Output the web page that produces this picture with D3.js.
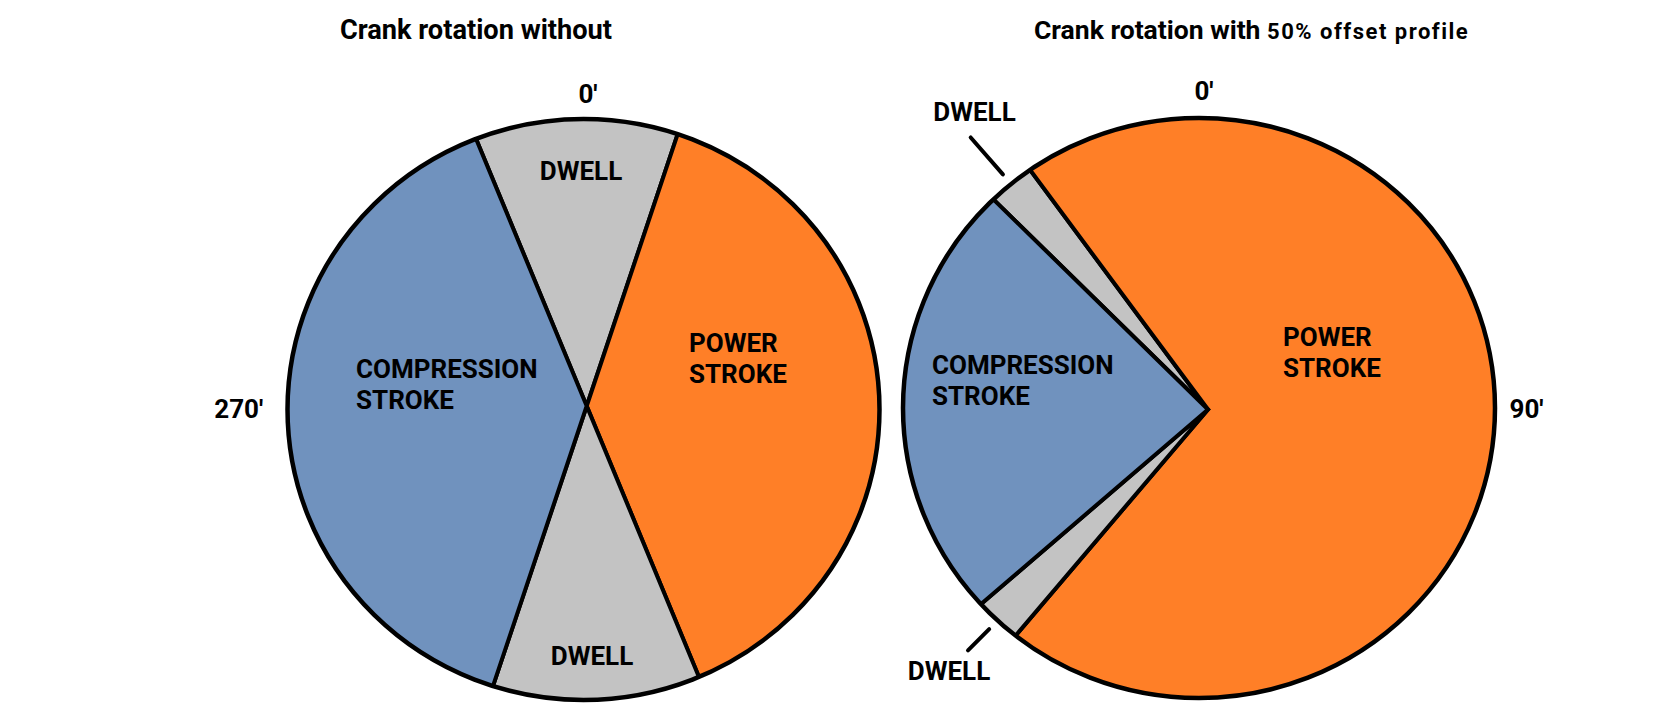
<!DOCTYPE html>
<html>
<head>
<meta charset="utf-8">
<script src="https://cdn.jsdelivr.net/npm/d3@7"></script>
<style>
  html, body { margin: 0; padding: 0; background: #ffffff; }
  svg { display: block; }
  text { font-family: Roboto, "DejaVu Sans", sans-serif; font-weight: 700; fill: #000; }
</style>
</head>
<body>
<svg id="chart" width="1664" height="704"></svg>
<script>
// ---------- DATA ----------
const categories = ["DWELL", "POWER STROKE", "DWELL", "COMPRESSION STROKE"];
const leftValues = [41, 139, 41, 139];     // degrees of crank rotation, no offset
const rightValues = [9, 257, 9, 85];       // degrees of crank rotation, 50% offset profile
const leftTitle = ["Crank rotation without"];
const rightTitle = ["Crank rotation with ", "50% offset profile"];
const leftTickLabels = ["0'", "270'"];
const rightTickLabels = ["0'", "90'"];

// ---------- STYLE / LAYOUT ----------
const colour = d3.scaleOrdinal()
  .domain(["DWELL", "POWER STROKE", "COMPRESSION STROKE"])
  .range(["#c3c3c3", "#ff7f27", "#7092be"]);

const deg = d3.scaleLinear().domain([0, 360]).range([0, 2 * Math.PI]);

const svg = d3.select("#chart");
const defs = svg.append("defs");

const charts = [
  {
    id: "L",
    values: leftValues,
    start: -22.5,
    vertex: [586.7, 406],
    ellipse: { cx: 583.5, cy: 409.5, rx: 296, ry: 290.5 },
    labels: [
      { dx: -5.7, dy: -226, anchor: "middle" },
      { dx: 102.3, dy: -54, anchor: "start" },
      { dx: 5.3, dy: 259, anchor: "middle" },
      { dx: -230.7, dy: -28, anchor: "start" }
    ],
    ticks: leftTickLabels,
    tickPos: [{ dx: 1.3, dy: -303 }, { dx: -348, dy: 12 }],
    title: leftTitle,
    titleSize: "27.2px",
    titlePos: { x: 476, y: 39, anchor: "middle" },
    leaders: []
  },
  {
    id: "R",
    values: rightValues,
    start: -45.6,
    vertex: [1208, 409.5],
    ellipse: { cx: 1199, cy: 408, rx: 296, ry: 290 },
    labels: [
      { dx: -233.5, dy: -288.8, anchor: "middle" },
      { dx: 75, dy: -63.5, anchor: "start" },
      { dx: -259, dy: 270.5, anchor: "middle" },
      { dx: -276, dy: -35.5, anchor: "start" }
    ],
    ticks: rightTickLabels,
    tickPos: [{ dx: -4, dy: -309.5 }, { dx: 318.5, dy: 8.2 }],
    title: rightTitle,
    titleSize: "26.5px",
    titlePos: { x: 1034, y: 39, anchor: "start" },
    leaders: [ { slice: 0, r0: 312, r1: 361 }, { slice: 2, r0: 310, r1: 340 } ]
  }
];

charts.forEach(c => {
  const pie = d3.pie().sort(null).value(d => d)
    .startAngle(deg(c.start)).endAngle(deg(c.start + 360));
  const arcs = pie(c.values);
  const arc = d3.arc().innerRadius(0).outerRadius(430);

  defs.append("clipPath").attr("id", "clip" + c.id)
    .append("ellipse")
    .attr("cx", c.ellipse.cx).attr("cy", c.ellipse.cy)
    .attr("rx", c.ellipse.rx).attr("ry", c.ellipse.ry);

  const g = svg.append("g");
  g.append("g")
    .attr("clip-path", `url(#clip${c.id})`)
    .append("g")
    .attr("transform", `translate(${c.vertex[0]},${c.vertex[1]})`)
    .selectAll("path")
    .data(arcs)
    .join("path")
    .attr("d", arc)
    .attr("fill", (d, i) => colour(categories[i]))
    .attr("stroke", "#000")
    .attr("stroke-width", 4)
    .attr("stroke-linejoin", "miter");

  g.append("ellipse")
    .attr("cx", c.ellipse.cx).attr("cy", c.ellipse.cy)
    .attr("rx", c.ellipse.rx).attr("ry", c.ellipse.ry)
    .attr("fill", "none").attr("stroke", "#000").attr("stroke-width", 4.5);

  const lg = g.append("g").attr("transform", `translate(${c.vertex[0]},${c.vertex[1]})`);

  // leader lines along slice mid-angle
  c.leaders.forEach(l => {
    const a = arcs[l.slice];
    const mid = (a.startAngle + a.endAngle) / 2;
    lg.append("line")
      .attr("x1", Math.sin(mid) * l.r0).attr("y1", -Math.cos(mid) * l.r0)
      .attr("x2", Math.sin(mid) * l.r1).attr("y2", -Math.cos(mid) * l.r1)
      .attr("stroke", "#000").attr("stroke-width", 4).attr("stroke-linecap", "round");
  });

  // slice labels
  categories.forEach((name, i) => {
    const p = c.labels[i];
    const t = lg.append("text")
      .attr("x", p.dx).attr("y", p.dy)
      .attr("text-anchor", p.anchor)
      .style("font-size", "26px");
    name.split(" ").forEach((w, j) => {
      t.append("tspan").attr("x", p.dx).attr("dy", j === 0 ? 0 : 30.5).text(w);
    });
  });

  // angle labels
  c.ticks.forEach((tk, i) => {
    lg.append("text")
      .attr("x", c.tickPos[i].dx).attr("y", c.tickPos[i].dy)
      .attr("text-anchor", "middle")
      .style("font-size", "26px")
      .text(tk);
  });

  // title
  const tt = svg.append("text")
    .attr("x", c.titlePos.x).attr("y", c.titlePos.y)
    .attr("text-anchor", c.titlePos.anchor)
    .style("font-size", c.titleSize);
  c.title.forEach((s, j) => {
    const ts = tt.append("tspan").text(s);
    if (j > 0) ts.style("font-size", "22px").style("letter-spacing", "1.5px");
  });
});
</script>
</body>
</html>
